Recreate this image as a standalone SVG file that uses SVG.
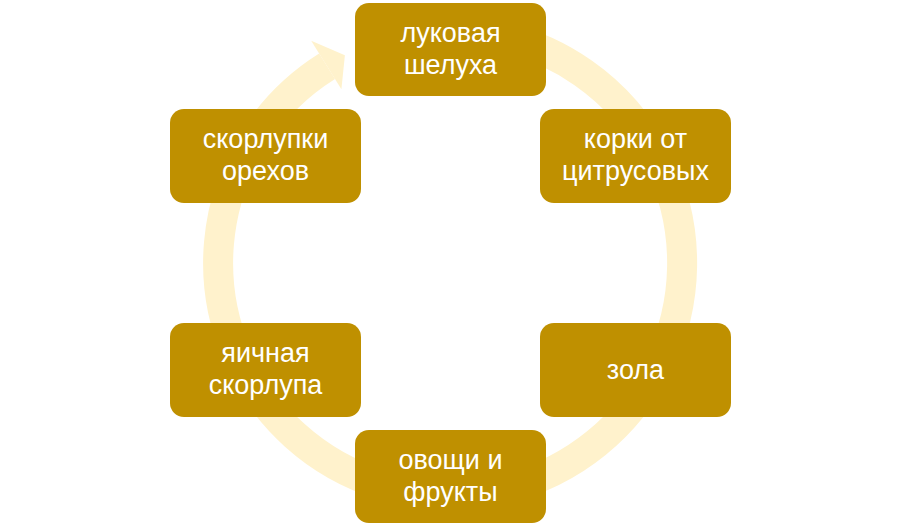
<svg xmlns="http://www.w3.org/2000/svg" width="900" height="530" viewBox="0 0 900 530">
  <style>
    .box { fill: #BF9000; }
    .lbl { fill: #FFFFFF; font-family: "Liberation Sans", "Open Sans", sans-serif; font-size: 27px; text-anchor: middle; }
    .ring { fill: none; stroke: #FFF2CC; stroke-width: 30; }
    .head { fill: #FFF2CC; }
  </style>
  <rect width="900" height="530" fill="#FFFFFF"/>
  <g id="connectors">
    <path class="ring" d="M 490.3 34.5 A 232 232 0 1 1 327.1 66.3"/>
    <polygon class="head" points="311.2,40.8 344.9,55.2 341.4,89.2"/>
  </g>
  <g id="node-1">
    <rect class="box" x="355" y="3" width="191" height="93" rx="14"/>
    <text class="lbl"><tspan x="450.5" y="42">луковая</tspan><tspan x="450.5" y="74">шелуха</tspan></text>
  </g>
  <g id="node-2">
    <rect class="box" x="540" y="109" width="191" height="94" rx="14"/>
    <text class="lbl"><tspan x="635.5" y="148">корки от</tspan><tspan x="635.5" y="180">цитрусовых</tspan></text>
  </g>
  <g id="node-3">
    <rect class="box" x="540" y="323" width="191" height="94" rx="14"/>
    <text class="lbl" x="635.5" y="379">зола</text>
  </g>
  <g id="node-4">
    <rect class="box" x="355" y="430" width="191" height="93" rx="14"/>
    <text class="lbl"><tspan x="450.5" y="469">овощи и</tspan><tspan x="450.5" y="501">фрукты</tspan></text>
  </g>
  <g id="node-5">
    <rect class="box" x="170" y="323" width="191" height="94" rx="14"/>
    <text class="lbl"><tspan x="265.5" y="362">яичная</tspan><tspan x="265.5" y="394">скорлупа</tspan></text>
  </g>
  <g id="node-6">
    <rect class="box" x="170" y="109" width="191" height="94" rx="14"/>
    <text class="lbl"><tspan x="265.5" y="148">скорлупки</tspan><tspan x="265.5" y="180">орехов</tspan></text>
  </g>
</svg>
